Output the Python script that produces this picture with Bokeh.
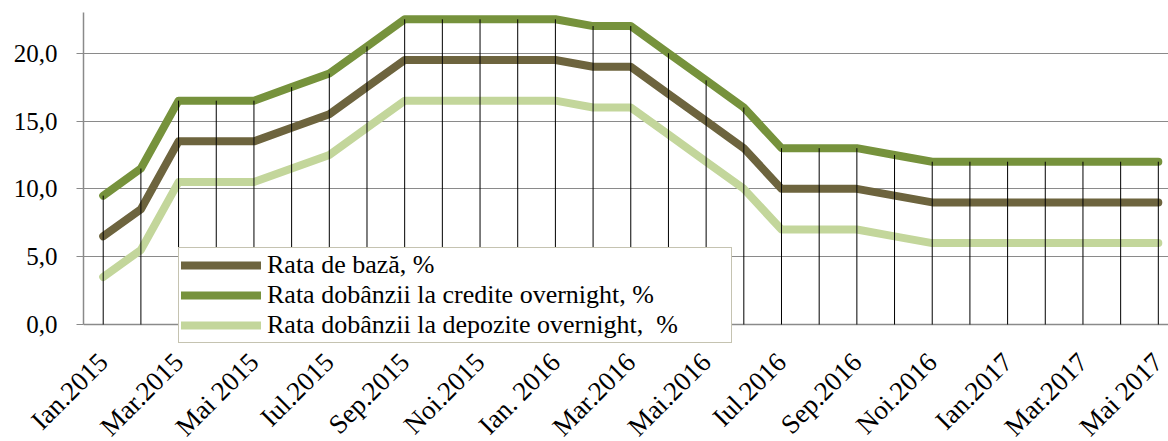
from bokeh.plotting import figure
from bokeh.models import FixedTicker, Legend, LegendItem, ColumnDataSource, Range1d, Span
from bokeh.embed import file_html
from bokeh.resources import INLINE
import math

months = ["Ian.2015", "Feb.2015", "Mar.2015", "Apr.2015", "Mai 2015", "Iun.2015",
          "Iul.2015", "Aug.2015", "Sep.2015", "Oct.2015", "Noi.2015", "Dec.2015",
          "Ian. 2016", "Feb.2016", "Mar.2016", "Apr.2016", "Mai.2016", "Iun.2016",
          "Iul.2016", "Aug.2016", "Sep.2016", "Oct.2016", "Noi.2016", "Dec.2016",
          "Ian.2017", "Feb.2017", "Mar.2017", "Apr.2017", "Mai 2017"]
tick_labels = ["Ian.2015", "Mar.2015", "Mai 2015", "Iul.2015", "Sep.2015", "Noi.2015",
               "Ian. 2016", "Mar.2016", "Mai.2016", "Iul.2016", "Sep.2016", "Noi.2016",
               "Ian.2017", "Mar.2017", "Mai 2017"]
rata_baza = [6.5, 8.5, 13.5, 13.5, 13.5, 14.5, 15.5, 17.5, 19.5, 19.5, 19.5, 19.5, 19.5,
             19.0, 19.0, 17.0, 15.0, 13.0, 10.0, 10.0, 10.0, 9.5, 9.0, 9.0, 9.0, 9.0, 9.0, 9.0, 9.0]
rata_credite = [9.5, 11.5, 16.5, 16.5, 16.5, 17.5, 18.5, 20.5, 22.5, 22.5, 22.5, 22.5, 22.5,
                22.0, 22.0, 20.0, 18.0, 16.0, 13.0, 13.0, 13.0, 12.5, 12.0, 12.0, 12.0, 12.0, 12.0, 12.0, 12.0]
rata_depozite = [3.5, 5.5, 10.5, 10.5, 10.5, 11.5, 12.5, 14.5, 16.5, 16.5, 16.5, 16.5, 16.5,
                 16.0, 16.0, 14.0, 12.0, 10.0, 7.0, 7.0, 7.0, 6.5, 6.0, 6.0, 6.0, 6.0, 6.0, 6.0, 6.0]
y_ticks = [0, 5, 10, 15, 20]
y_tick_labels = ["0,0", "5,0", "10,0", "15,0", "20,0"]

idx = list(range(len(months)))
src = ColumnDataSource(dict(x=idx, base=rata_baza, cred=rata_credite, dep=rata_depozite,
                            zero=[0] * len(idx),
                            top=[max(a, b, c) for a, b, c in zip(rata_baza, rata_credite, rata_depozite)]))

Y_MAX = 23
p = figure(frame_width=1085, frame_height=331, output_backend="svg", toolbar_location=None,
           x_range=Range1d(-0.523, 28.27), y_range=Range1d(-1.4, Y_MAX))
p.min_border_left = 83
p.min_border_right = 0
p.min_border_top = 12
p.min_border_bottom = 98
p.outline_line_color = None
p.background_fill_color = "white"

FONT = "Liberation Serif"
GREY = "#8A8A8A"

# horizontal grid (drawn under the data)
p.xgrid.grid_line_color = None
p.ygrid.grid_line_color = GREY
p.ygrid.grid_line_width = 1
p.ygrid.ticker = FixedTicker(ticks=y_ticks)
p.add_layout(Span(location=0, dimension="width", line_color=GREY, line_width=1.5, level="underlay"))

r_base = p.line("x", "base", source=src, line_color="#6D643E", line_width=8, line_cap="round", line_join="round")
r_cred = p.line("x", "cred", source=src, line_color="#76923C", line_width=8, line_cap="round", line_join="round")
r_dep = p.line("x", "dep", source=src, line_color="#C3D69B", line_width=8, line_cap="round", line_join="round")
p.segment(x0="x", y0="zero", x1="x", y1="top", source=src, line_color="black", line_width=1)

p.yaxis.ticker = FixedTicker(ticks=y_ticks)
p.yaxis.bounds = (0, Y_MAX)
p.yaxis.major_label_overrides = {t: l for t, l in zip(y_ticks, y_tick_labels)}
p.yaxis.axis_line_color = GREY
p.yaxis.axis_line_width = 1.5
p.yaxis.major_tick_line_color = GREY
p.yaxis.major_tick_out = 7
p.yaxis.major_tick_in = 0
p.yaxis.minor_tick_line_color = None
p.yaxis.major_label_standoff = 19
p.yaxis.major_label_text_font = FONT
p.yaxis.major_label_text_font_size = "25px"
p.yaxis.major_label_text_color = "black"

x_ticks = idx[::2]
p.xaxis.ticker = FixedTicker(ticks=x_ticks)
p.xaxis.major_label_overrides = {t: l for t, l in zip(x_ticks, tick_labels)}
p.xaxis.major_label_orientation = math.pi / 4
p.xaxis.axis_line_color = None
p.xaxis.major_tick_line_color = None
p.xaxis.minor_tick_line_color = None
p.xaxis.major_label_standoff = 8
p.xaxis.major_label_text_font = FONT
p.xaxis.major_label_text_font_size = "27px"
p.xaxis.major_label_text_color = "black"

legend = Legend(items=[
    LegendItem(label="Rata de bază, %", renderers=[r_base]),
    LegendItem(label="Rata dobânzii la credite overnight, %", renderers=[r_cred]),
    LegendItem(label="Rata dobânzii la depozite overnight,  %", renderers=[r_dep]),
], location=(95, 0))
legend.label_text_font = FONT
legend.label_text_font_size = "26px"
legend.label_text_line_height = 1.0
legend.label_text_color = "black"
legend.glyph_width = 80
legend.glyph_height = 30
legend.label_height = 30
legend.label_width = 462
legend.label_standoff = 6
legend.spacing = 0
legend.padding = 2
legend.margin = 0
legend.border_line_color = "#8C8764"
legend.border_line_width = 1.5
legend.background_fill_color = "white"
legend.background_fill_alpha = 1.0
p.add_layout(legend)

open("out.html", "w").write(file_html(p, INLINE))
